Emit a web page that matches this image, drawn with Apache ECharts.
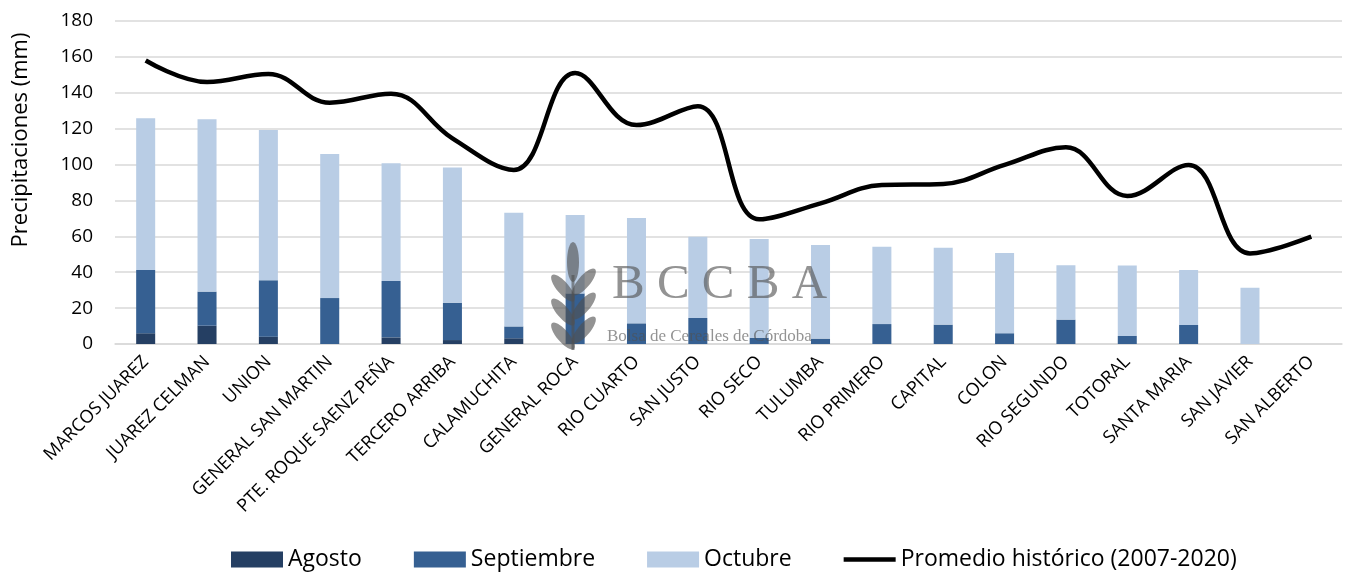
<!DOCTYPE html>
<html>
<head>
<meta charset="utf-8">
<script src="https://cdn.jsdelivr.net/npm/echarts@6/dist/echarts.min.js"></script>
<style>
  html, body { margin: 0; padding: 0; background: #fff; }
  #chart { width: 1349px; height: 572px; }
</style>
</head>
<body>
<div id="chart"></div>
<script>
var departamentos = ['MARCOS JUAREZ', 'JUAREZ CELMAN', 'UNION', 'GENERAL SAN MARTIN',
    'PTE. ROQUE SAENZ PEÑA', 'TERCERO ARRIBA', 'CALAMUCHITA', 'GENERAL ROCA', 'RIO CUARTO',
    'SAN JUSTO', 'RIO SECO', 'TULUMBA', 'RIO PRIMERO', 'CAPITAL', 'COLON', 'RIO SEGUNDO',
    'TOTORAL', 'SANTA MARIA', 'SAN JAVIER', 'SAN ALBERTO'];

var agosto = [6, 10.2, 4.1, 0, 3.7, 2.2, 3.2, 0, 0, 0, 0, 0, 0, 0, 0, 0, 0, 0, 0, 0];
var septiembre = [35.2, 19, 31.4, 25.6, 31.4, 20.8, 6.6, 28.2, 11.5, 14.5, 3.5, 3, 11.1, 10.8, 6, 13.6, 4.5, 10.6, 0, 0];
var octubre = [84.6, 96, 83.8, 80.3, 65.6, 75.3, 63.4, 43.7, 58.7, 45.3, 55, 52.2, 43.1, 42.9, 44.7, 30.3, 39.2, 30.6, 31.4, 0];
var promedio = [158, 146, 150.5, 134.5, 139.5, 114.6, 97, 151, 122, 132.5, 69.5, 78.4, 88.6, 89.2, 99.8, 109.6, 82.5, 99.8, 50.5, 59.8];

var yTicks = { min: 0, max: 180, interval: 20 };

var font = 'Open Sans';
var watermark = 'rgba(80,80,80,0.62)';

var myChart = echarts.init(document.getElementById('chart'));

var option = {
    animation: false,
    textStyle: { fontFamily: font },
    grid: {
        left: 115,
        right: 7,
        top: 21,
        bottom: 228
    },
    legend: {
        left: 226,
        top: 543,
        itemWidth: 52,
        itemHeight: 16,
        itemGap: 52,
        textStyle: { fontSize: 23, color: '#000', fontFamily: font },
        data: [
            { name: 'Agosto', icon: 'rect' },
            { name: 'Septiembre', icon: 'rect' },
            { name: 'Octubre', icon: 'rect' },
            { name: 'Promedio histórico (2007-2020)', icon: 'path://M0,0 L56,0 L56,5 L0,5 Z' }
        ]
    },
    xAxis: {
        type: 'category',
        data: departamentos,
        axisLine: { lineStyle: { color: '#d9d9d9', width: 1.5 } },
        axisTick: { show: false },
        axisLabel: {
            interval: 0,
            rotate: 45,
            fontSize: 18,
            color: '#000',
            margin: 15
        }
    },
    yAxis: {
        type: 'value',
        min: yTicks.min,
        max: yTicks.max,
        interval: yTicks.interval,
        axisLine: { show: false },
        axisTick: { show: false },
        axisLabel: { fontSize: 19, color: '#000', margin: 22 },
        splitLine: { lineStyle: { color: '#d9d9d9', width: 1.5 } }
    },
    graphic: [
        {
            type: 'text',
            x: 21, y: 140,
            rotation: Math.PI / 2,
            style: {
                text: 'Precipitaciones (mm)',
                fontSize: 22, fontFamily: font, fill: '#000',
                align: 'center', verticalAlign: 'middle'
            }
        },
        // marca de agua BCCBA
        { type: 'ellipse', x: 573, y: 262, shape: { cx: 0, cy: 0, rx: 6, ry: 20 }, style: { fill: watermark }, z: 100 },
        { type: 'rect', shape: { x: 571.5, y: 275, width: 3, height: 75 }, style: { fill: watermark }, z: 100 },
        { type: 'ellipse', x: 563, y: 288, rotation: 0.7, shape: { cx: 0, cy: 0, rx: 6, ry: 17 }, style: { fill: watermark }, z: 100 },
        { type: 'ellipse', x: 563, y: 312, rotation: 0.7, shape: { cx: 0, cy: 0, rx: 6, ry: 17 }, style: { fill: watermark }, z: 100 },
        { type: 'ellipse', x: 563, y: 336, rotation: 0.7, shape: { cx: 0, cy: 0, rx: 6, ry: 17 }, style: { fill: watermark }, z: 100 },
        { type: 'ellipse', x: 584, y: 282, rotation: -0.7, shape: { cx: 0, cy: 0, rx: 6, ry: 17 }, style: { fill: watermark }, z: 100 },
        { type: 'ellipse', x: 584, y: 306, rotation: -0.7, shape: { cx: 0, cy: 0, rx: 6, ry: 17 }, style: { fill: watermark }, z: 100 },
        { type: 'ellipse', x: 584, y: 330, rotation: -0.7, shape: { cx: 0, cy: 0, rx: 6, ry: 17 }, style: { fill: watermark }, z: 100 },
        {
            type: 'text', x: 612, y: 310, z: 100,
            style: {
                text: 'B C C B A',
                fontSize: 49, fontFamily: 'Liberation Serif', fill: watermark,
                verticalAlign: 'bottom'
            }
        },
        {
            type: 'text', x: 607, y: 345, z: 100,
            style: {
                text: 'Bolsa de Cereales de Córdoba',
                fontSize: 17, fontFamily: 'Liberation Serif', fill: watermark,
                verticalAlign: 'bottom'
            }
        }
    ],
    series: [
        {
            name: 'Agosto',
            type: 'bar',
            stack: 'lluvia',
            barWidth: '31%',
            itemStyle: { color: '#253f63' },
            data: agosto
        },
        {
            name: 'Septiembre',
            type: 'bar',
            stack: 'lluvia',
            barWidth: '31%',
            itemStyle: { color: '#366092' },
            data: septiembre
        },
        {
            name: 'Octubre',
            type: 'bar',
            stack: 'lluvia',
            barWidth: '31%',
            itemStyle: { color: '#b9cde5' },
            data: octubre
        },
        {
            name: 'Promedio histórico (2007-2020)',
            type: 'line',
            smooth: 0.4,
            symbol: 'none',
            lineStyle: { color: '#000', width: 4.5 },
            itemStyle: { color: '#000' },
            data: promedio,
            z: 5
        }
    ]
};

myChart.setOption(option);
</script>
</body>
</html>
